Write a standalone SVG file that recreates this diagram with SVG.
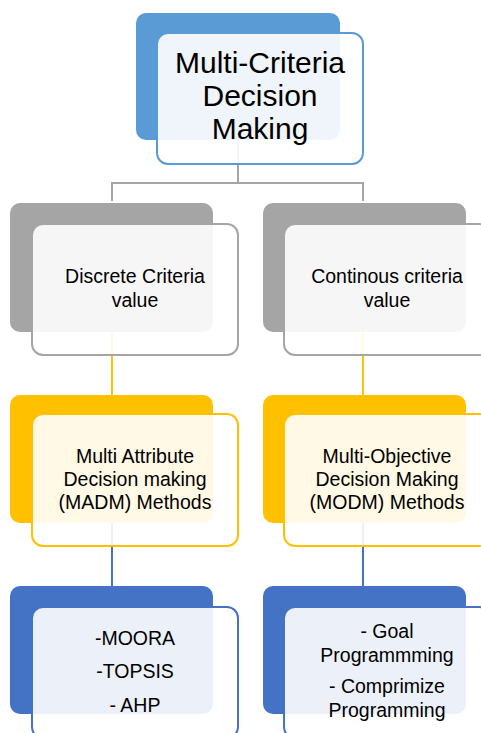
<svg xmlns="http://www.w3.org/2000/svg" width="481" height="733" viewBox="0 0 481 733">
<style>
.t{font-family:"Liberation Sans",Arial,sans-serif;fill:#000;text-anchor:middle}
.title{font-size:30px}
.m{font-size:19.5px}
.front{fill:#fff;fill-opacity:0.9;stroke-width:2}
.c{fill:none;stroke-width:2}
</style>
<rect width="481" height="733" fill="#fff"/>
<g id="connectors">
<path class="c" stroke="#A5A5A5" d="M238 140V183M112 201V183H363V201"/>
<path class="c" stroke="#FFC000" d="M112 332V395M363 332V395"/>
<path class="c" stroke="#4472C4" d="M112 523V586M363 523V586"/>
</g>
<g id="root">
<rect x="136" y="13" width="204" height="127" rx="10" fill="#5B9BD5"/>
<rect class="front" x="157" y="33" width="206" height="131" rx="11" stroke="#5B9BD5"/>
<text class="t title" x="260" y="73">Multi-Criteria</text>
<text class="t title" x="260" y="106">Decision</text>
<text class="t title" x="260" y="139">Making</text>
</g>
<g id="discrete">
<rect x="10" y="203" width="203" height="129" rx="10" fill="#A5A5A5"/>
<rect class="front" x="32" y="224" width="206" height="131" rx="11" stroke="#A5A5A5"/>
<text class="t m" x="135" y="283">Discrete Criteria</text>
<text class="t m" x="135" y="307">value</text>
</g>
<g id="continuous">
<rect x="263" y="203" width="203" height="129" rx="10" fill="#A5A5A5"/>
<rect class="front" x="284" y="224" width="206" height="131" rx="11" stroke="#A5A5A5"/>
<text class="t m" x="387" y="283">Continous criteria</text>
<text class="t m" x="387" y="307">value</text>
</g>
<g id="madm">
<rect x="10" y="395" width="203" height="128" rx="10" fill="#FFC000"/>
<rect class="front" x="32" y="414" width="206" height="132" rx="11" stroke="#FFC000"/>
<text class="t m" x="135" y="463">Multi Attribute</text>
<text class="t m" x="135" y="486">Decision making</text>
<text class="t m" x="135" y="509">(MADM) Methods</text>
</g>
<g id="modm">
<rect x="263" y="395" width="203" height="128" rx="10" fill="#FFC000"/>
<rect class="front" x="284" y="414" width="206" height="132" rx="11" stroke="#FFC000"/>
<text class="t m" x="387" y="463">Multi-Objective</text>
<text class="t m" x="387" y="486">Decision Making</text>
<text class="t m" x="387" y="509">(MODM) Methods</text>
</g>
<g id="madm-methods">
<rect x="10" y="586" width="203" height="128" rx="10" fill="#4472C4"/>
<rect class="front" x="32" y="607" width="206" height="131" rx="11" stroke="#4472C4"/>
<text class="t m" x="135" y="645">-MOORA</text>
<text class="t m" x="135" y="678">-TOPSIS</text>
<text class="t m" x="135" y="712">- AHP</text>
</g>
<g id="modm-methods">
<rect x="263" y="586" width="203" height="128" rx="10" fill="#4472C4"/>
<rect class="front" x="284" y="607" width="206" height="131" rx="11" stroke="#4472C4"/>
<text class="t m" x="387" y="638">- Goal</text>
<text class="t m" x="387" y="662">Programmming</text>
<text class="t m" x="387" y="693">- Comprimize</text>
<text class="t m" x="387" y="717">Programming</text>
</g>
</svg>
